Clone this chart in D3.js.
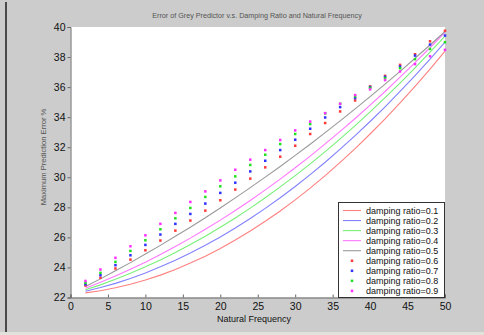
<!DOCTYPE html>
<html>
<head>
<meta charset="utf-8">
<script src="https://cdn.jsdelivr.net/npm/d3@7"></script>
<style>
  html, body { margin: 0; padding: 0; background: #cccccc; }
  svg { display: block; font-family: "Liberation Sans", Arial, sans-serif; }
</style>
</head>
<body>
<div id="chart"></div>
<script>
// natural frequency samples
const freq = [2, 4, 6, 8, 10, 12, 14, 16, 18, 20, 22, 24, 26, 28, 30, 32, 34, 36, 38, 40, 42, 44, 46, 48, 50];

// damping ratio 0.1 .. 0.5 drawn as lines
const err01 = [22.31, 22.45, 22.65, 22.88, 23.16, 23.49, 23.87, 24.29, 24.75, 25.26, 25.82, 26.42, 27.07, 27.76, 28.50, 29.28, 30.11, 30.99, 31.91, 32.88, 33.89, 34.95, 36.05, 37.20, 38.40];
const err02 = [22.41, 22.66, 22.94, 23.27, 23.63, 24.04, 24.48, 24.96, 25.47, 26.03, 26.62, 27.26, 27.93, 28.64, 29.39, 30.18, 31.00, 31.87, 32.77, 33.71, 34.69, 35.71, 36.77, 37.86, 39.00];
const err03 = [22.51, 22.84, 23.21, 23.61, 24.04, 24.50, 24.99, 25.52, 26.08, 26.67, 27.29, 27.95, 28.64, 29.36, 30.11, 30.89, 31.71, 32.56, 33.44, 34.35, 35.30, 36.27, 37.28, 38.33, 39.40];
const err04 = [22.61, 23.01, 23.43, 23.88, 24.35, 24.86, 25.39, 25.95, 26.54, 27.15, 27.79, 28.46, 29.16, 29.88, 30.63, 31.41, 32.22, 33.05, 33.91, 34.80, 35.71, 36.66, 37.63, 38.62, 39.65];
const err05 = [22.73, 23.24, 23.78, 24.32, 24.89, 25.47, 26.07, 26.68, 27.31, 27.96, 28.63, 29.31, 30.01, 30.72, 31.46, 32.20, 32.97, 33.75, 34.55, 35.37, 36.20, 37.05, 37.92, 38.80, 39.70];

// damping ratio 0.6 .. 0.9 drawn as dots
const err06 = [22.80, 23.31, 23.93, 24.52, 25.14, 25.79, 26.45, 27.12, 27.78, 28.47, 29.18, 29.91, 30.66, 31.37, 32.10, 32.88, 33.61, 34.38, 35.11, 36.05, 36.75, 37.48, 38.19, 39.05, 39.75];
const err07 = [22.88, 23.48, 24.15, 24.81, 25.50, 26.19, 26.90, 27.56, 28.25, 28.96, 29.64, 30.39, 31.10, 31.81, 32.50, 33.23, 33.98, 34.67, 35.27, 36.00, 36.68, 37.37, 38.10, 38.83, 39.43];
const err08 = [22.98, 23.64, 24.37, 25.10, 25.81, 26.54, 27.27, 27.96, 28.69, 29.40, 30.06, 30.82, 31.50, 32.21, 32.88, 33.54, 34.25, 34.89, 35.38, 35.95, 36.60, 37.26, 37.86, 38.54, 38.99];
const err09 = [23.10, 23.86, 24.64, 25.41, 26.14, 26.90, 27.63, 28.36, 29.06, 29.79, 30.50, 31.17, 31.81, 32.48, 33.12, 33.71, 34.27, 34.89, 35.47, 35.85, 36.47, 37.04, 37.53, 38.05, 38.48];

const xTicks = [0, 5, 10, 15, 20, 25, 30, 35, 40, 45, 50];
const yTicks = [22, 24, 26, 28, 30, 32, 34, 36, 38, 40];
const legendLabels = ["damping ratio=0.1", "damping ratio=0.2", "damping ratio=0.3", "damping ratio=0.4", "damping ratio=0.5",
                      "damping ratio=0.6", "damping ratio=0.7", "damping ratio=0.8", "damping ratio=0.9"];

const lineSeries = [err01, err02, err03, err04, err05];
const dotSeries = [err06, err07, err08, err09];
const lineColors = ["#ff8080", "#8282ff", "#78f078", "#ff78ff", "#9a9a9a"];
const dotColors = ["#ff3a3a", "#3030ff", "#20e020", "#ff30ff"];

const width = 484, height = 335;
const plot = { left: 70.5, right: 445, top: 27, bottom: 297.5 };

const svg = d3.select("#chart").append("svg")
  .attr("width", width)
  .attr("height", height);

svg.append("rect").attr("width", width).attr("height", height).attr("fill", "#cccccc");
// window frame bits
svg.append("rect").attr("x", 5).attr("y", 2).attr("width", 2).attr("height", 331).attr("fill", "#4a4a4a");
svg.append("rect").attr("x", 0).attr("y", 332).attr("width", width).attr("height", 3).attr("fill", "#e2e2da");

const x = d3.scaleLinear().domain([0, 50]).range([plot.left, plot.right]);
const y = d3.scaleLinear().domain([22, 40]).range([plot.bottom, plot.top]);

svg.append("rect")
  .attr("x", plot.left).attr("y", plot.top)
  .attr("width", plot.right - plot.left).attr("height", plot.bottom - plot.top)
  .attr("fill", "#ffffff");

// axes
const yAxis = svg.append("g")
  .attr("transform", "translate(" + plot.left + ",0)")
  .call(d3.axisLeft(y).tickValues(yTicks).tickSize(3).tickPadding(2));
const xAxis = svg.append("g")
  .attr("transform", "translate(0," + plot.bottom + ")")
  .call(d3.axisBottom(x).tickValues(xTicks).tickSize(-3).tickPadding(3));

[xAxis, yAxis].forEach(function (a) {
  a.select(".domain").attr("stroke", "#666");
  a.selectAll(".tick line").attr("stroke", "#666");
  a.selectAll(".tick text").attr("fill", "#111").attr("font-size", "10.5px")
    .attr("font-family", "Liberation Sans, Arial, sans-serif");
});
xAxis.selectAll(".tick text").attr("dy", "0.95em");

// lines
const line = d3.line()
  .x(function (d, i) { return x(freq[i]); })
  .y(function (d) { return y(d); });

svg.append("g").selectAll("path")
  .data(lineSeries)
  .enter().append("path")
  .attr("d", line)
  .attr("fill", "none")
  .attr("stroke", function (d, i) { return lineColors[i]; })
  .attr("stroke-width", 1.1);

// dots
dotSeries.forEach(function (s, k) {
  svg.append("g").selectAll("rect")
    .data(s)
    .enter().append("rect")
    .attr("x", function (d, i) { return x(freq[i]) - 1.25; })
    .attr("y", function (d) { return y(d) - 1.25; })
    .attr("width", 2.5).attr("height", 2.5)
    .attr("fill", dotColors[k]);
});

// titles
svg.append("text")
  .attr("x", 257).attr("y", 17.5)
  .attr("text-anchor", "middle")
  .attr("font-size", "7.2px").attr("fill", "#555")
  .text("Error of Grey Predictor v.s. Damping Ratio and Natural Frequency");

svg.append("text")
  .attr("transform", "translate(45.5,157) rotate(-90)")
  .attr("text-anchor", "middle")
  .attr("font-size", "7.6px").attr("fill", "#555")
  .text("Maximum Prediction Error %");

svg.append("text")
  .attr("x", 254).attr("y", 321.5)
  .attr("text-anchor", "middle")
  .attr("font-size", "9px").attr("fill", "#111")
  .text("Natural Frequency");

// legend
const lg = svg.append("g");
lg.append("rect")
  .attr("x", 338.5).attr("y", 202.5).attr("width", 106).attr("height", 95)
  .attr("fill", "#ffffff").attr("stroke", "#333").attr("stroke-width", 1);

legendLabels.forEach(function (lab, i) {
  const ly = 210.5 + i * 10.05;
  if (i < 5) {
    lg.append("line")
      .attr("x1", 343).attr("x2", 361).attr("y1", ly).attr("y2", ly)
      .attr("stroke", lineColors[i]).attr("stroke-width", 1.1);
  } else {
    lg.append("rect")
      .attr("x", 350.75).attr("y", ly - 1.25).attr("width", 2.5).attr("height", 2.5)
      .attr("fill", dotColors[i - 5]);
  }
  lg.append("text")
    .attr("x", 366).attr("y", ly + 3)
    .attr("font-size", "9px").attr("fill", "#111")
    .text(lab);
});
</script>
</body>
</html>
